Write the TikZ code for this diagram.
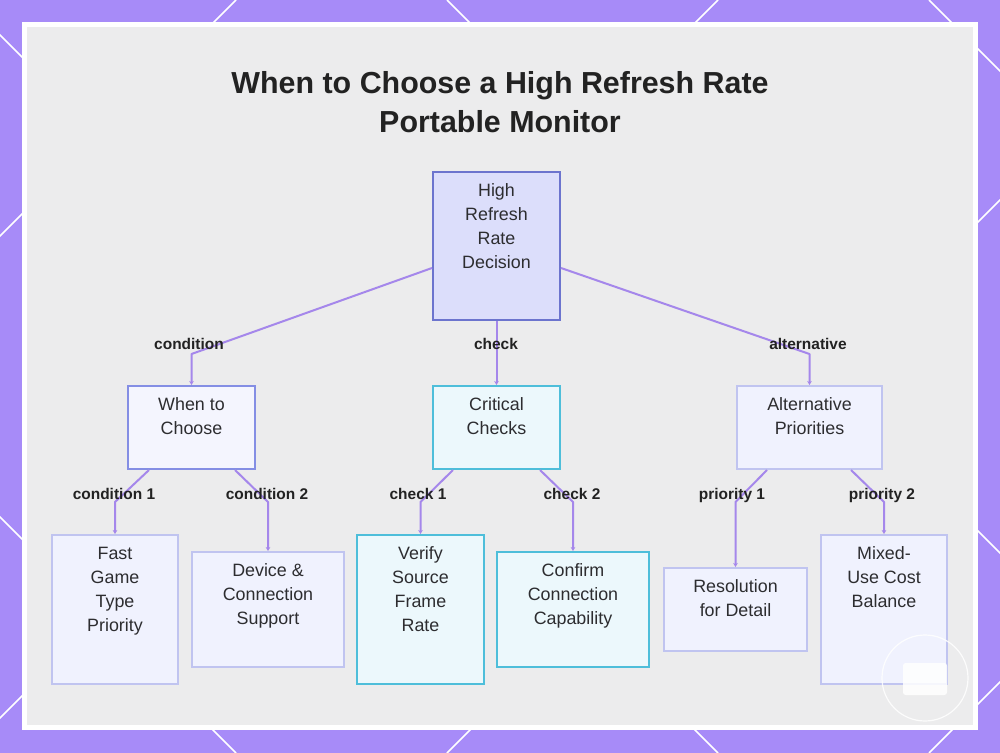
\documentclass[tikz,border=0pt]{standalone}
\usepackage{fontspec}
\setmainfont{Liberation Sans}
\usetikzlibrary{arrows.meta,calc,fit}
\definecolor{bgpurple}{RGB}{167,139,248}
\definecolor{panel}{RGB}{236,236,237}
\definecolor{edgecol}{RGB}{165,135,235}
\definecolor{txtdark}{RGB}{45,45,48}
\definecolor{titlecol}{RGB}{34,34,34}
\definecolor{rootfill}{RGB}{220,222,251}
\definecolor{rootdraw}{RGB}{108,116,206}
\definecolor{midfill}{RGB}{244,245,254}
\definecolor{middraw}{RGB}{132,142,228}
\definecolor{cyanfill}{RGB}{236,248,252}
\definecolor{cyandraw}{RGB}{78,190,218}
\definecolor{lightfill}{RGB}{240,242,254}
\definecolor{lightdraw}{RGB}{192,196,240}
\tikzset{
  boxbase/.style={inner sep=0pt, line width=1.5pt},
  rootbox/.style={boxbase, fill=rootfill, draw=rootdraw},
  midbox/.style={boxbase, fill=midfill, draw=middraw},
  cyanbox/.style={boxbase, fill=cyanfill, draw=cyandraw},
  lightbox/.style={boxbase, fill=lightfill, draw=lightdraw},
  ntext/.style={anchor=north, inner sep=0pt, align=center, text=txtdark,
    font=\fontsize{13.4pt}{18pt}\selectfont},
  lbl/.style={anchor=base, inner sep=0pt, text=titlecol,
    font=\bfseries\fontsize{11.6pt}{14pt}\selectfont},
  conn/.style={draw=edgecol, line width=1.5pt, line join=round,
    -{Stealth[length=3pt,width=3.5pt]}},
  deco/.style={white, line width=1.2pt}
}
\begin{document}
\begin{tikzpicture}[x=0.75pt,y=-0.75pt]
\useasboundingbox (0,0) rectangle (1000,753);
% purple background with diagonal lattice
\fill[bgpurple] (0,0) rectangle (1000,753);
\begin{scope}
\clip (0,0) rectangle (1000,753);
\foreach \c in {236,718,1200,1682} { \draw[deco] (\c,0) -- ({\c-753},753); }
\foreach \c in {-517,-35,447,929} { \draw[deco] (\c,0) -- ({\c+753},753); }
\end{scope}
% frame
\fill[white] (22,22) rectangle (978,730);
\fill[panel] (27,27) rectangle (973,725);
% title
\node[anchor=base, inner sep=0pt, text=titlecol, align=center,
  font=\bfseries\fontsize{22.8pt}{29.25pt}\selectfont] (title) at (500,132)
  {When to Choose a High Refresh Rate\\Portable Monitor};
% boxes
\node[rootbox, fit={(433,172) (560,320)}] (root) {};
\node[midbox, fit={(128,386) (255,469)}] (when) {};
\node[cyanbox, fit={(433,386) (560,469)}] (crit) {};
\node[lightbox, fit={(737,386) (882,469)}] (alt) {};
\node[lightbox, fit={(52,535) (178,684)}] (fast) {};
\node[lightbox, fit={(192,552) (344,667)}] (dev) {};
\node[cyanbox, fit={(357,535) (484,684)}] (verify) {};
\node[cyanbox, fit={(497,552) (649,667)}] (confirm) {};
\node[lightbox, fit={(664,568) (807,651)}] (res) {};
\node[lightbox, fit={(821,535) (947,684)}] (mixed) {};
% texts
\node[ntext] (rootT) at ($(root.north)+(0,8.2)$) {\strut High\\Refresh\\Rate\\Decision};
\node[ntext] (whenT) at ($(when.north)+(0,8.2)$) {\strut When to\\Choose};
\node[ntext] (critT) at ($(crit.north)+(0,8.2)$) {\strut Critical\\Checks};
\node[ntext] (altT) at ($(alt.north)+(0,8.2)$) {\strut Alternative\\Priorities};
\node[ntext] (fastT) at ($(fast.north)+(0,8.2)$) {\strut Fast\\Game\\Type\\Priority};
\node[ntext] (devT) at ($(dev.north)+(0,8.2)$) {\strut Device \&\\Connection\\Support};
\node[ntext] (verifyT) at ($(verify.north)+(0,8.2)$) {\strut Verify\\Source\\Frame\\Rate};
\node[ntext] (confirmT) at ($(confirm.north)+(0,8.2)$) {\strut Confirm\\Connection\\Capability};
\node[ntext] (resT) at ($(res.north)+(0,8.2)$) {\strut Resolution\\for Detail};
\node[ntext] (mixedT) at ($(mixed.north)+(0,8.2)$) {\strut Mixed-\\Use Cost\\Balance};
% bend coordinates
\coordinate (b1) at ($(when.north)+(0,-31)$);
\coordinate (b3) at ($(alt.north)+(0,-31)$);
\coordinate (bf) at (fast.north |- 0,502);
\coordinate (bd) at (dev.north |- 0,502);
\coordinate (bv) at (verify.north |- 0,502);
\coordinate (bc) at (confirm.north |- 0,502);
\coordinate (br) at (res.north |- 0,502);
\coordinate (bm) at (mixed.north |- 0,502);
% connectors
\draw[conn] ($(root.west)+(0,22)$) -- (b1) -- (when.north);
\draw[conn] (root.south) -- (crit.north);
\draw[conn] ($(root.east)+(0,22)$) -- (b3) -- (alt.north);
\draw[conn] (when.south -| 149,0) -- (bf) -- (fast.north);
\draw[conn] (when.south -| 235,0) -- (bd) -- (dev.north);
\draw[conn] (crit.south -| 453,0) -- (bv) -- (verify.north);
\draw[conn] (crit.south -| 540,0) -- (bc) -- (confirm.north);
\draw[conn] (alt.south -| 767,0) -- (br) -- (res.north);
\draw[conn] (alt.south -| 851,0) -- (bm) -- (mixed.north);
% labels
\node[lbl] (l1) at (189,349) {condition};
\node[lbl] (l2) at (496,349) {check};
\node[lbl] (l3) at (808,349) {alternative};
\node[lbl] (l4) at (114,499) {condition 1};
\node[lbl] (l5) at (267,499) {condition 2};
\node[lbl] (l6) at (418,499) {check 1};
\node[lbl] (l7) at (572,499) {check 2};
\node[lbl] (l8) at (732,499) {priority 1};
\node[lbl] (l9) at (882,499) {priority 2};
% watermark badge
\draw[white, opacity=0.85, line width=0.9pt] (925,678) circle[radius=32.25pt];
\fill[white, opacity=0.85, rounded corners=2pt] (903,663) rectangle (947,695);
\end{tikzpicture}
\end{document}
